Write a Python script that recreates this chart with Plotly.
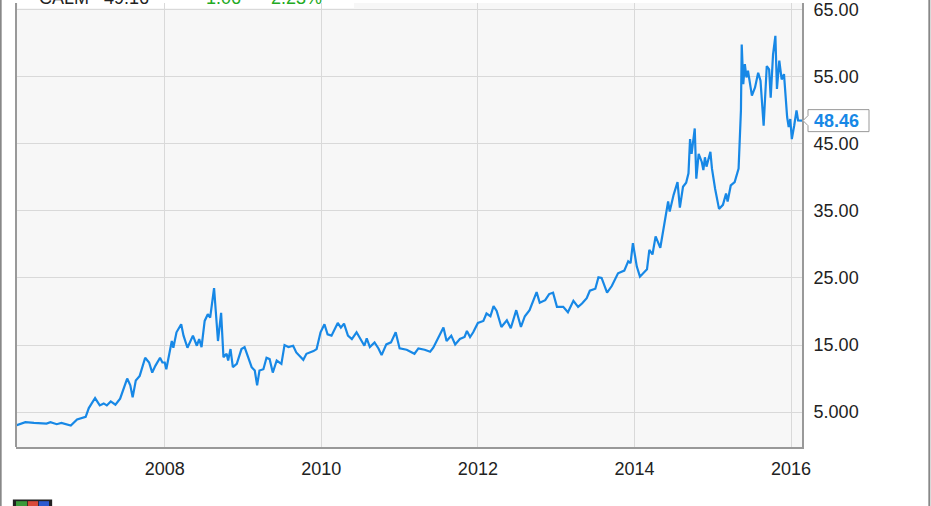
import plotly.graph_objects as go

# CALM weekly close (x in decimal years)
years = [
    2006.10, 2006.22, 2006.33, 2006.49, 2006.54, 2006.62, 2006.68, 2006.80, 2006.88, 2006.99,
    2007.03, 2007.11, 2007.17, 2007.22, 2007.26, 2007.31, 2007.37, 2007.43, 2007.52, 2007.56,
    2007.59, 2007.63, 2007.68, 2007.75, 2007.80, 2007.84, 2007.88, 2007.94, 2007.97, 2008.00,
    2008.02, 2008.09, 2008.11, 2008.15, 2008.21, 2008.24, 2008.29, 2008.36, 2008.41, 2008.44,
    2008.47, 2008.51, 2008.55, 2008.58, 2008.63, 2008.65, 2008.68, 2008.72, 2008.75, 2008.79,
    2008.81, 2008.84, 2008.87, 2008.92, 2008.98, 2009.02, 2009.06, 2009.11, 2009.15, 2009.18,
    2009.21, 2009.26, 2009.30, 2009.34, 2009.38, 2009.43, 2009.49, 2009.53, 2009.58, 2009.64,
    2009.68, 2009.77, 2009.81, 2009.90, 2009.94, 2009.99, 2010.04, 2010.08, 2010.13, 2010.21,
    2010.25, 2010.29, 2010.34, 2010.39, 2010.45, 2010.51, 2010.55, 2010.58, 2010.62, 2010.68,
    2010.73, 2010.77, 2010.83, 2010.89, 2010.95, 2011.00, 2011.09, 2011.19, 2011.24, 2011.32,
    2011.39, 2011.43, 2011.49, 2011.56, 2011.60, 2011.66, 2011.71, 2011.77, 2011.83, 2011.86,
    2011.90, 2011.94, 2012.00, 2012.07, 2012.11, 2012.16, 2012.20, 2012.24, 2012.30, 2012.37,
    2012.42, 2012.49, 2012.55, 2012.60, 2012.66, 2012.75, 2012.79, 2012.86, 2012.91, 2012.96,
    2013.01, 2013.09, 2013.15, 2013.22, 2013.28, 2013.33, 2013.39, 2013.43, 2013.50, 2013.54,
    2013.58, 2013.65, 2013.71, 2013.74, 2013.79, 2013.87, 2013.92, 2013.95, 2013.98, 2014.03,
    2014.07, 2014.16, 2014.19, 2014.23, 2014.27, 2014.33, 2014.39, 2014.43, 2014.45, 2014.50,
    2014.55, 2014.58, 2014.62, 2014.66, 2014.69, 2014.71, 2014.73, 2014.77, 2014.79, 2014.82,
    2014.86, 2014.88, 2014.90, 2014.92, 2014.97, 2014.99, 2015.03, 2015.08, 2015.13, 2015.17,
    2015.19, 2015.23, 2015.28, 2015.33, 2015.36, 2015.37, 2015.39, 2015.41, 2015.43, 2015.45,
    2015.50, 2015.54, 2015.58, 2015.61, 2015.65, 2015.69, 2015.72, 2015.74, 2015.77, 2015.80,
    2015.82, 2015.85, 2015.88, 2015.91, 2015.95, 2015.97, 2015.99, 2016.01, 2016.04, 2016.07,
    2016.09, 2016.14,
]
prices = [
    3.0, 3.5, 3.4, 3.3, 3.5, 3.2, 3.4, 3.0, 3.9, 4.3,
    5.6, 7.1, 6.0, 6.3, 6.0, 6.6, 6.1, 7.0, 10.0, 9.0,
    7.2, 9.7, 10.4, 13.1, 12.4, 10.9, 11.9, 13.1, 12.4, 12.4,
    11.4, 15.6, 14.6, 16.9, 18.1, 16.4, 14.6, 16.4, 14.9, 15.9,
    14.7, 18.6, 19.6, 19.1, 23.5, 20.1, 15.6, 19.8, 13.2, 13.7,
    12.7, 14.4, 11.7, 12.2, 14.4, 14.7, 13.4, 11.7, 11.2, 9.0,
    11.2, 11.4, 13.1, 12.9, 10.9, 12.7, 12.2, 15.0, 14.7, 14.9,
    13.9, 12.8, 13.7, 14.1, 14.4, 16.9, 18.1, 16.6, 16.4, 18.3,
    17.6, 18.2, 16.4, 15.9, 16.9, 15.6, 14.9, 16.0, 14.7, 15.4,
    14.5, 13.5, 15.1, 15.4, 16.9, 14.5, 14.3, 13.7, 14.5, 14.3,
    14.0, 14.6, 16.0, 17.6, 15.6, 16.4, 15.1, 15.9, 16.2, 17.1,
    16.2, 16.9, 18.3, 18.6, 19.7, 19.3, 20.8, 20.1, 17.7, 18.7,
    17.5, 20.2, 17.7, 19.3, 20.2, 22.9, 21.3, 21.7, 22.6, 22.8,
    20.7, 20.7, 19.9, 21.6, 20.7, 21.2, 22.0, 23.1, 23.4, 25.1,
    25.0, 22.8, 23.8, 24.5, 25.7, 26.1, 27.5, 27.2, 30.2, 26.7,
    25.2, 26.3, 29.2, 28.5, 31.2, 29.5, 33.9, 36.4, 34.9, 37.4,
    39.3, 35.5, 38.6, 39.2, 40.6, 45.7, 43.5, 47.3, 39.8, 43.5,
    42.3, 41.1, 43.0, 41.6, 43.8, 41.3, 38.3, 35.3, 35.9, 37.6,
    36.4, 38.8, 39.3, 41.3, 50.0, 59.8, 53.9, 56.9, 54.9, 55.9,
    52.2, 53.4, 55.6, 54.4, 47.7, 56.6, 56.1, 51.9, 58.3, 61.1,
    53.2, 57.4, 54.6, 55.4, 49.0, 47.5, 48.7, 45.7, 47.7, 50.0,
    48.5, 48.46,
]

year_ticks = [2008, 2010, 2012, 2014, 2016]
price_ticks = [5, 15, 25, 35, 45, 55, 65]
price_labels = ["5.000", "15.00", "25.00", "35.00", "45.00", "55.00", "65.00"]

ticker = "CALM"
header_price = 49.16
header_change = "1.06      2.23%"

BLUE = "#1788e6"
FONT = "Liberation Sans, Arial, sans-serif"
y_lo, y_hi = -0.2, 66.0

fig = go.Figure()
fig.add_trace(go.Scatter(
    x=years, y=prices, mode="lines",
    line=dict(color=BLUE, width=2.2),
    hoverinfo="skip", showlegend=False,
))

last_x, last_y = years[-1], prices[-1]
ypos = (last_y - y_lo) / (y_hi - y_lo)

# small logo in the bottom-left corner (mostly cut off)
logo = [
    dict(type="rect", xref="paper", yref="paper", x0=-0.004, x1=0.046, y0=-0.135, y1=-0.118,
         fillcolor="#222", line=dict(width=0)),
    dict(type="rect", xref="paper", yref="paper", x0=0.0, x1=0.014, y0=-0.135, y1=-0.122,
         fillcolor="#3a9a3a", line=dict(width=0)),
    dict(type="rect", xref="paper", yref="paper", x0=0.015, x1=0.028, y0=-0.135, y1=-0.122,
         fillcolor="#d84a3a", line=dict(width=0)),
    dict(type="rect", xref="paper", yref="paper", x0=0.029, x1=0.042, y0=-0.135, y1=-0.122,
         fillcolor="#2a5ad0", line=dict(width=0)),
]

fig.update_layout(
    width=931, height=506,
    margin=dict(l=16, r=129, t=0, b=59),
    paper_bgcolor="white",
    plot_bgcolor="#f7f7f7",
    font=dict(family=FONT, size=18, color="#222"),
    xaxis=dict(
        range=[2006.10, 2016.14],
        tickvals=year_ticks,
        ticktext=[str(y) for y in year_ticks],
        showgrid=True, gridcolor="#d9d9d9", gridwidth=1,
        zeroline=False,
        showline=True, linecolor="#999", linewidth=2,
        ticks="outside", ticklen=4, tickcolor="rgba(0,0,0,0)",
        ticklabeloverflow="allow",
    ),
    yaxis=dict(
        range=[y_lo, y_hi],
        side="right",
        tickvals=price_ticks,
        ticktext=price_labels,
        showgrid=True, gridcolor="#d9d9d9", gridwidth=1,
        zeroline=False,
        showline=True, linecolor="#999", linewidth=2,
        ticks="outside", ticklen=6, tickcolor="rgba(0,0,0,0)",
        ticklabeloverflow="allow",
    ),
    shapes=[
        # left border of the plot
        dict(type="line", xref="paper", yref="paper", x0=0, x1=0, y0=0, y1=1,
             line=dict(color="#999", width=2)),
        # white header box at top-left
        dict(type="rect", xref="paper", yref="paper", x0=0.002, x1=0.43, y0=0.989, y1=1,
             fillcolor="white", line=dict(width=0), layer="below"),
        # outer frame lines
        dict(type="line", xref="paper", yref="paper", x0=-0.0195, x1=-0.0195, y0=-0.2, y1=1.1,
             line=dict(color="#888", width=2)),
        dict(type="line", xref="paper", yref="paper", x0=1.162, x1=1.162, y0=-0.2, y1=1.1,
             line=dict(color="#888", width=2)),
        # last-value label box with notch
        dict(type="path", xref="paper", yref="paper",
             xsizemode="pixel", ysizemode="pixel", xanchor=1, yanchor=ypos,
             path="M 1,0 L 6,5 L 6,11 L 67,11 L 67,-11 L 6,-11 L 6,-5 Z",
             fillcolor="white", line=dict(color="#999", width=1)),
    ] + logo,
    annotations=[
        dict(xref="paper", yref="y", x=1, y=last_y, xanchor="left", yanchor="middle",
             xshift=10, text="<b>%.2f</b>" % last_y, showarrow=False,
             font=dict(family=FONT, size=18, color=BLUE)),
        dict(xref="paper", yref="paper", x=0.027, y=1, xanchor="left", yanchor="bottom",
             yshift=-7, text="%s   %.2f" % (ticker, header_price), showarrow=False,
             font=dict(family=FONT, size=18, color="#222")),
        dict(xref="paper", yref="paper", x=0.239, y=1, xanchor="left", yanchor="bottom",
             yshift=-7, text=header_change, showarrow=False,
             font=dict(family=FONT, size=18, color="#22aa22")),
    ],
)

fig.write_html(
    "out.html",
    config={"displayModeBar": False},
    post_script="document.body.style.margin='0';document.body.style.overflow='hidden';",
)
